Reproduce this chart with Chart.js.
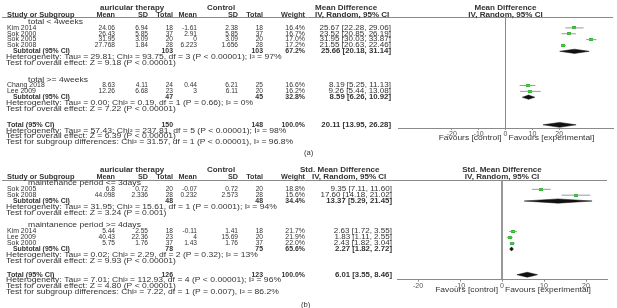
<!DOCTYPE html>
<html>
<head>
<meta charset="utf-8">
<script src="https://cdn.jsdelivr.net/npm/chart.js@4.4.1/dist/chart.umd.min.js"></script>
<style>
  html, body { margin: 0; padding: 0; background: #fff; }
  #wrap { position: relative; width: 617px; height: 308px; overflow: hidden; }
  canvas { position: absolute; left: 0; }
</style>
</head>
<body>
<div id="wrap">
  <canvas id="panelA" width="617" height="162" style="top:0"></canvas>
  <canvas id="panelB" width="617" height="146" style="top:162px"></canvas>
</div>
<script>
// ---------- panel (a): mean difference ----------
const groupsA = ['total < 4weeks', 'total >= 4weeks'];
const studiesA = ['Kim 2014', 'Sok 2000', 'Sok 2005', 'Sok 2008', 'Chang 2018', 'Lee 2009'];
const studyGroupA = [0, 0, 0, 0, 1, 1];
const expMeanA = [24.06, 26.43, 31.95, 27.768, 8.63, 12.26];
const expSdA = [6.94, 5.85, 3.09, 1.84, 4.11, 6.68];
const expNA = [18, 37, 20, 28, 24, 23];
const ctlMeanA = [-1.61, 2.91, 0, 6.223, 0.44, 3];
const ctlSdA = [2.38, 5.85, 3.09, 1.656, 6.21, 6.11];
const ctlNA = [18, 37, 20, 28, 25, 20];
const weightA = [16.4, 16.7, 17.0, 17.2, 16.6, 16.2];
const effA = [25.67, 23.52, 31.95, 21.55, 8.19, 9.26];
const loA = [22.28, 20.85, 30.03, 20.63, 5.25, 5.44];
const hiA = [29.06, 26.19, 33.87, 22.46, 11.13, 13.08];
const subExpNA = [103, 47];
const subCtlNA = [103, 45];
const subWeightA = [67.2, 32.8];
const subEffA = [25.66, 8.59];
const subLoA = [20.18, 6.26];
const subHiA = [31.14, 10.92];
const subHetA = [
  'Heterogeneity: Tau² = 29.81; Chi² = 93.75, df = 3 (P < 0.00001); I² = 97%',
  'Heterogeneity: Tau² = 0.00; Chi² = 0.19, df = 1 (P = 0.66); I² = 0%'
];
const subTestA = [
  'Test for overall effect: Z = 9.18 (P < 0.00001)',
  'Test for overall effect: Z = 7.22 (P < 0.00001)'
];
const totalNA = [150, 148];
const totalEffA = [20.11, 13.95, 26.28]; // estimate, low, high
const totalNotesA = [
  'Heterogeneity: Tau² = 57.43; Chi² = 237.81, df = 5 (P < 0.00001); I² = 98%',
  'Test for overall effect: Z = 6.39 (P < 0.00001)',
  'Test for subgroup differences: Chi² = 31.57, df = 1 (P < 0.00001), I² = 96.8%'
];
const ticksA = [-20, -10, 0, 10, 20];

// ---------- panel (b): std. mean difference ----------
const groupsB = ['maintenance period <= 3days', 'maintanence period >= 4days'];
const studiesB = ['Sok 2005', 'Sok 2008', 'Kim 2014', 'Lee 2009', 'Sok 2000'];
const studyGroupB = [0, 0, 1, 1, 1];
const expMeanB = [6.8, 44.098, 5.44, 40.43, 5.75];
const expSdB = [0.72, 2.336, 2.55, 22.36, 1.76];
const expNB = [20, 28, 18, 23, 37];
const ctlMeanB = [-0.07, 0.232, -0.11, 4, 1.43];
const ctlSdB = [0.72, 2.573, 1.41, 15.69, 1.76];
const ctlNB = [20, 28, 18, 20, 37];
const weightB = [18.8, 15.6, 21.7, 21.9, 22.0];
const effB = [9.35, 17.60, 2.63, 1.83, 2.43];
const loB = [7.11, 14.18, 1.72, 1.11, 1.82];
const hiB = [11.60, 21.02, 3.55, 2.55, 3.04];
const subExpNB = [48, 78];
const subCtlNB = [48, 75];
const subWeightB = [34.4, 65.6];
const subEffB = [13.37, 2.27];
const subLoB = [5.29, 1.82];
const subHiB = [21.45, 2.72];
const subHetB = [
  'Heterogeneity: Tau² = 31.95; Chi² = 15.61, df = 1 (P = 0.0001); I² = 94%',
  'Heterogeneity: Tau² = 0.02; Chi² = 2.29, df = 2 (P = 0.32); I² = 13%'
];
const subTestB = [
  'Test for overall effect: Z = 3.24 (P = 0.001)',
  'Test for overall effect: Z = 9.93 (P < 0.00001)'
];
const totalNB = [126, 123];
const totalEffB = [6.01, 3.55, 8.46];
const totalNotesB = [
  'Heterogeneity: Tau² = 7.01; Chi² = 112.93, df = 4 (P < 0.00001); I² = 96%',
  'Test for overall effect: Z = 4.80 (P < 0.00001)',
  'Test for subgroup differences: Chi² = 7.22, df = 1 (P = 0.007), I² = 86.2%'
];
const ticksB = [-20, -10, 0, 10, 20];

const FONT = '"Liberation Sans", Arial, sans-serif';
const INK = '#333';

// green study box used as point style
const greenBox = document.createElement('canvas');
greenBox.width = 4; greenBox.height = 3;
const gctx = greenBox.getContext('2d');
gctx.fillStyle = '#2fb52f';
gctx.fillRect(0, 0, 4, 3);

function txt(ctx, s, x, y, align, bold, size, sx) {
  ctx.save();
  ctx.font = (bold ? 'bold ' : '') + size + 'px ' + FONT;
  ctx.fillStyle = INK;
  ctx.textAlign = align;
  ctx.textBaseline = 'middle';
  ctx.translate(x, y);
  ctx.scale(sx || 1, 1);
  ctx.fillText(s, 0, 0);
  ctx.restore();
}

function ci(e, l, h) {
  return e.toFixed(2) + ' [' + l.toFixed(2) + ', ' + h.toFixed(2) + ']';
}

// row index of every line of the table
function buildRows(groups, studyGroup, lay) {
  const rows = { head: [], study: [], sub: [], het: [], test: [] };
  let r = lay.firstRow;
  groups.forEach((g, gi) => {
    rows.head.push(r); r += 1;
    studyGroup.forEach((sg, si) => {
      if (sg === gi) { rows.study[si] = r; r += 1; }
    });
    rows.sub.push(r); rows.het.push(r + 1); rows.test.push(r + 2);
    r += 2;
    if (gi < groups.length - 1) r += lay.groupGap;
  });
  rows.total = r + lay.totalGap;
  return rows;
}

function buildPanel(canvas, d, lay) {
  const W = canvas.width, H = canvas.height;
  const rows = buildRows(d.groups, d.studyGroup, lay);
  const yMin = (lay.top - lay.base) / lay.step;
  const yMax = (lay.axisY - lay.base) / lay.step;

  const whiskers = [];
  d.eff.forEach((e, i) => {
    whiskers.push({ x: d.lo[i], y: rows.study[i] });
    whiskers.push({ x: d.hi[i], y: rows.study[i] });
    whiskers.push({ x: NaN, y: NaN });
  });
  const boxes = d.eff.map((e, i) => ({ x: e, y: rows.study[i] }));

  const diamond = (e, l, h, r, hh) => ({
    type: 'scatter',
    data: [{ x: l, y: r }, { x: e, y: r - hh }, { x: h, y: r }, { x: e, y: r + hh }, { x: l, y: r }],
    showLine: true, fill: 'shape',
    backgroundColor: '#111', borderColor: '#111', borderWidth: 0.5, pointRadius: 0
  });

  const datasets = [
    {
      type: 'scatter', data: [{ x: 0, y: yMin }, { x: 0, y: yMax }],
      showLine: true, borderColor: '#8a8a8a', borderWidth: 1, pointRadius: 0
    },
    {
      type: 'scatter', data: whiskers, showLine: true, spanGaps: false,
      borderColor: '#9a9a9a', borderWidth: 1, pointRadius: 0
    },
    {
      type: 'scatter', data: boxes, pointStyle: greenBox, pointRadius: 2
    }
  ];
  d.subEff.forEach((e, gi) => {
    datasets.push(diamond(e, d.subLo[gi], d.subHi[gi], rows.sub[gi], 0.36));
  });
  datasets.push(diamond(d.totalEff[0], d.totalEff[1], d.totalEff[2], rows.total, 0.42));

  const tablePlugin = {
    id: 'table',
    afterDraw(chart) {
      const ctx = chart.ctx;
      const y = (r) => chart.scales.y.getPixelForValue(r);
      const x0 = chart.scales.x.getPixelForValue(0);
      const area = chart.chartArea;
      const cols = lay.cols;
      const fs = 6.6;

      // header line
      ctx.save();
      ctx.strokeStyle = '#8a8a8a';
      ctx.lineWidth = 1;
      ctx.beginPath();
      ctx.moveTo(2, Math.round(area.top) + 0.5);
      ctx.lineTo(area.right, Math.round(area.top) + 0.5);
      ctx.stroke();
      ctx.restore();

      // headers
      const h1 = y(-1.45), h2 = y(-0.25);
      txt(ctx, 'auricular therapy', cols.expHead, h1, 'left', true, fs, 1.2);
      txt(ctx, 'Control', cols.ctlHead, h1, 'left', true, fs, 1.2);
      txt(ctx, d.effHead, cols.ciHead1, h1, 'left', true, fs, 1.22);
      txt(ctx, 'IV, Random, 95% CI', cols.ciHead2, h2, 'left', true, fs, 1.22);
      txt(ctx, d.effHead, x0, h1, 'center', true, fs, 1.22);
      txt(ctx, 'IV, Random, 95% CI', x0, h2, 'center', true, fs, 1.22);
      txt(ctx, 'Study or Subgroup', 7, h2, 'left', true, fs, 1.13);
      txt(ctx, 'Mean', cols.m1, h2, 'right', true, fs, 1.1);
      txt(ctx, 'SD', cols.s1, h2, 'right', true, fs, 1.1);
      txt(ctx, 'Total', cols.n1, h2, 'right', true, fs, 1.1);
      txt(ctx, 'Mean', cols.m2, h2, 'right', true, fs, 1.1);
      txt(ctx, 'SD', cols.s2, h2, 'right', true, fs, 1.1);
      txt(ctx, 'Total', cols.n2, h2, 'right', true, fs, 1.1);
      txt(ctx, 'Weight', cols.w, h2, 'right', true, fs, 1.1);

      d.groups.forEach((g, gi) => {
        txt(ctx, g, 28, y(rows.head[gi]), 'left', false, fs, 1.3);
        const rs = y(rows.sub[gi]);
        txt(ctx, 'Subtotal (95% CI)', 13, rs, 'left', true, fs, 1.05);
        txt(ctx, String(d.subExpN[gi]), cols.n1, rs, 'right', true, fs, 1.05);
        txt(ctx, String(d.subCtlN[gi]), cols.n2, rs, 'right', true, fs, 1.05);
        txt(ctx, d.subWeight[gi].toFixed(1) + '%', cols.w, rs, 'right', true, fs, 1.05);
        txt(ctx, ci(d.subEff[gi], d.subLo[gi], d.subHi[gi]), cols.ci, rs, 'right', true, fs, 1.18);
        txt(ctx, d.subHet[gi], 6, y(rows.het[gi]), 'left', false, fs, 1.3);
        txt(ctx, d.subTest[gi], 6, y(rows.test[gi]), 'left', false, fs, 1.3);
      });

      d.studies.forEach((s, i) => {
        const ry = y(rows.study[i]);
        txt(ctx, s, 7, ry, 'left', false, fs, 1.05);
        txt(ctx, String(d.expMean[i]), cols.m1, ry, 'right', false, fs, 1.0);
        txt(ctx, String(d.expSd[i]), cols.s1, ry, 'right', false, fs, 1.0);
        txt(ctx, String(d.expN[i]), cols.n1, ry, 'right', false, fs, 1.0);
        txt(ctx, String(d.ctlMean[i]), cols.m2, ry, 'right', false, fs, 1.0);
        txt(ctx, String(d.ctlSd[i]), cols.s2, ry, 'right', false, fs, 1.0);
        txt(ctx, String(d.ctlN[i]), cols.n2, ry, 'right', false, fs, 1.0);
        txt(ctx, d.weight[i].toFixed(1) + '%', cols.w, ry, 'right', false, fs, 1.05);
        txt(ctx, ci(d.eff[i], d.lo[i], d.hi[i]), cols.ci, ry, 'right', false, fs, 1.22);
      });

      const rt = y(rows.total);
      txt(ctx, 'Total (95% CI)', 7, rt, 'left', true, fs, 1.1);
      txt(ctx, String(d.totalN[0]), cols.n1, rt, 'right', true, fs, 1.05);
      txt(ctx, String(d.totalN[1]), cols.n2, rt, 'right', true, fs, 1.05);
      txt(ctx, '100.0%', cols.w, rt, 'right', true, fs, 1.05);
      txt(ctx, ci(d.totalEff[0], d.totalEff[1], d.totalEff[2]), cols.ci, rt, 'right', true, fs, 1.18);
      d.totalNotes.forEach((n, k) => {
        txt(ctx, n, 6, y(rows.total + 1 + k), 'left', false, fs, 1.3);
      });

      // favours labels under the axis
      const fy = area.bottom + lay.favOff;
      txt(ctx, 'Favours [control]', x0 - 4, fy, 'right', false, fs, 1.28);
      txt(ctx, 'Favours [experimental]', x0 + 3, fy, 'left', false, fs, 1.28);

      txt(ctx, d.label, lay.labelX, lay.labelY, 'left', false, 7, 1.1);
    }
  };

  return new Chart(canvas.getContext('2d'), {
    type: 'scatter',
    data: { datasets: datasets },
    options: {
      responsive: false,
      animation: false,
      devicePixelRatio: 1,
      events: [],
      layout: {
        autoPadding: false,
        padding: { left: lay.left, right: W - lay.right, top: lay.top, bottom: 0 }
      },
      plugins: { legend: { display: false }, tooltip: { enabled: false } },
      scales: {
        x: {
          type: 'linear', min: -lay.range, max: lay.range,
          afterBuildTicks: (scale) => { scale.ticks = d.ticks.map((v) => ({ value: v })); },
          afterFit: (scale) => { scale.height = H - lay.axisY; },
          border: { display: true, color: '#8a8a8a', width: 1 },
          grid: { display: true, drawOnChartArea: false, drawTicks: true, tickLength: 2, color: '#8a8a8a' },
          ticks: {
            autoSkip: false, maxRotation: 0, padding: 0, color: '#555',
            font: { size: 7, family: FONT },
            callback: (v) => String(v)
          }
        },
        y: { type: 'linear', display: false, reverse: true, min: yMin, max: yMax }
      }
    },
    plugins: [tablePlugin]
  });
}

buildPanel(document.getElementById('panelA'), {
  groups: groupsA, studies: studiesA, studyGroup: studyGroupA,
  expMean: expMeanA, expSd: expSdA, expN: expNA,
  ctlMean: ctlMeanA, ctlSd: ctlSdA, ctlN: ctlNA,
  weight: weightA, eff: effA, lo: loA, hi: hiA,
  subExpN: subExpNA, subCtlN: subCtlNA, subWeight: subWeightA,
  subEff: subEffA, subLo: subLoA, subHi: subHiA,
  subHet: subHetA, subTest: subTestA,
  totalN: totalNA, totalEff: totalEffA, totalNotes: totalNotesA,
  ticks: ticksA, effHead: 'Mean Difference', label: '(a)'
}, {
  base: 16.5, step: 5.85, firstRow: 0.95, groupGap: 2.85, totalGap: 2.72,
  top: 17, axisY: 128, left: 398, right: 613, range: 40, favOff: 10.5,
  labelX: 304, labelY: 153,
  cols: { expHead: 100, ctlHead: 207, ciHead1: 315, ciHead2: 315,
          m1: 115, s1: 148, n1: 173, m2: 197, s2: 238, n2: 263, w: 305, ci: 391 }
});

buildPanel(document.getElementById('panelB'), {
  groups: groupsB, studies: studiesB, studyGroup: studyGroupB,
  expMean: expMeanB, expSd: expSdB, expN: expNB,
  ctlMean: ctlMeanB, ctlSd: ctlSdB, ctlN: ctlNB,
  weight: weightB, eff: effB, lo: loB, hi: hiB,
  subExpN: subExpNB, subCtlN: subCtlNB, subWeight: subWeightB,
  subEff: subEffB, subLo: subLoB, subHi: subHiB,
  subHet: subHetB, subTest: subTestB,
  totalN: totalNB, totalEff: totalEffB, totalNotes: totalNotesB,
  ticks: ticksB, effHead: 'Std. Mean Difference', label: '(b)'
}, {
  base: 16.5, step: 5.85, firstRow: 0.85, groupGap: 2.2, totalGap: 2.4,
  top: 17.7, axisY: 117.7, left: 397, right: 607, range: 25, favOff: 10.5,
  labelX: 301, labelY: 143,
  cols: { expHead: 100, ctlHead: 207, ciHead1: 300, ciHead2: 312,
          m1: 115, s1: 148, n1: 173, m2: 197, s2: 238, n2: 263, w: 305, ci: 392 }
});
</script>
</body>
</html>
